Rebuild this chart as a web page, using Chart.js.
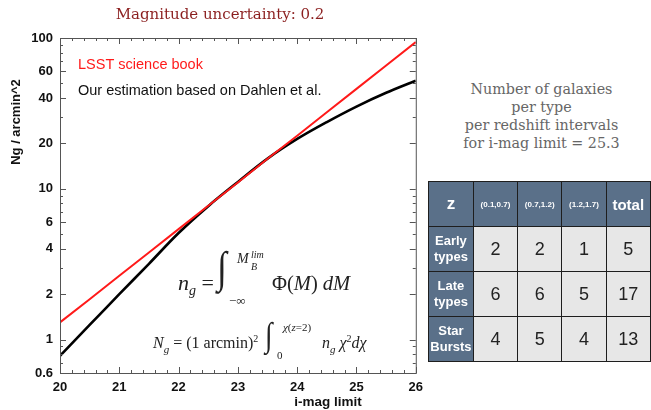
<!DOCTYPE html>
<html>
<head>
<meta charset="utf-8">
<script src="https://cdn.jsdelivr.net/npm/chart.js@4.4.1/dist/chart.umd.min.js"></script>
<style>
  body { margin: 0; width: 651px; height: 410px; overflow: hidden; background: #fff; position: relative; }
  #grafico { position: absolute; left: 0; top: 0; width: 430px; height: 410px; }
  .titulo { position: absolute; left: 0; top: 5px; width: 440px; text-align: center;
            font: 15px "DejaVu Serif", serif; color: #8b1f1f; }
  .eq { position: absolute; font-family: "Liberation Serif", serif; color: #222; white-space: nowrap; line-height: 1; }
  .eq i { font-style: italic; }
  .texto { position: absolute; left: 432px; top: 80px; width: 219px; text-align: center;
           font: 14.3px/18px "DejaVu Serif", serif; color: #666; }
  table { position: absolute; left: 428px; top: 181px; border-collapse: collapse;
          font-family: "Liberation Sans", Arial, sans-serif; table-layout: fixed; }
  td { width: 44px; height: 44px; border: 1.5px solid #1e1e1e; text-align: center; padding: 0;
       background: #e7e7e7; color: #222; font-size: 18px; }
  td.cab { background: #5a7089; color: #fff; font-weight: bold; }
</style>
</head>
<body>
<div id="grafico"><canvas id="chart-ng"></canvas></div>
<div class="titulo">Magnitude uncertainty: 0.2</div>

<div class="eq" style="left:178px; top:272px; font-size:22px;"><i>n</i><sub style="font-size:14px"><i>g</i></sub> =</div>
<div class="eq" style="left:216px; top:246px; font-size:44px; transform: scaleX(0.8);">∫</div>
<div class="eq" style="left:237px; top:252px; font-size:14px;"><i>M</i></div>
<div class="eq" style="left:251px; top:250px; font-size:10px;"><i>lim</i></div>
<div class="eq" style="left:251px; top:262px; font-size:10px;"><i>B</i></div>
<div class="eq" style="left:229px; top:294px; font-size:13px;">−∞</div>
<div class="eq" style="left:272px; top:273px; font-size:20.5px;">Φ(<i>M</i>) <i>dM</i></div>

<div class="eq" style="left:153px; top:334px; font-size:16px;"><i>N</i><sub style="font-size:11px"><i>g</i></sub> = (1 arcmin)<sup style="font-size:10px">2</sup></div>
<div class="eq" style="left:264px; top:318px; font-size:34px; transform: scaleX(0.8);">∫</div>
<div class="eq" style="left:283px; top:322px; font-size:11px;"><i>χ</i>(<i>z</i>=2)</div>
<div class="eq" style="left:277px; top:350px; font-size:11px;">0</div>
<div class="eq" style="left:322px; top:334px; font-size:16px;"><i>n</i><sub style="font-size:11px"><i>g</i></sub> <i>χ</i><sup style="font-size:10px">2</sup><i>dχ</i></div>

<div class="texto">Number of galaxies<br>per type<br>per redshift intervals<br>for i-mag limit = 25.3</div>
<table id="tabla"></table>

<script>
// Datos de la figura
const magnitudes = [20, 20.5, 21, 21.5, 22, 22.5, 23, 23.5, 24, 24.5, 25, 25.5, 26];
const valoresLSST = [1.3, 1.85, 2.65, 3.78, 5.4, 7.72, 11.0, 15.8, 22.5, 32.2, 46, 65.7, 94];
const valoresDahlen = [0.78, 1.25, 2.0, 3.18, 5.09, 7.67, 11.1, 15.85, 21.4, 27.7, 35.1, 43.3, 52.1];

const etiquetasY = [0.6, 1, 2, 4, 6, 10, 20, 40, 60, 100];
const etiquetasX = [20, 21, 22, 23, 24, 25, 26];

// Tabla de la derecha
const intervalosZ = ['(0.1,0.7)', '(0.7,1.2)', '(1.2,1.7)'];
const tiposGalaxia = ['Early<br>types', 'Late<br>types', 'Star<br>Bursts'];
const conteoEarly = [2, 2, 1, 5];
const conteoLate = [6, 6, 5, 17];
const conteoStarBursts = [4, 5, 4, 13];

function construirTabla() {
    const tabla = document.getElementById('tabla');
    let html = '<tr><td class="cab" style="font-size:17px">z</td>';
    intervalosZ.forEach(z => { html += `<td class="cab" style="font-size:8px">${z}</td>`; });
    html += '<td class="cab" style="font-size:15px">total</td></tr>';
    [conteoEarly, conteoLate, conteoStarBursts].forEach((fila, i) => {
        html += `<tr><td class="cab" style="font-size:13px;line-height:16px">${tiposGalaxia[i]}</td>`;
        fila.forEach(v => { html += `<td>${v}</td>`; });
        html += '</tr>';
    });
    tabla.innerHTML = html;
}

// Marco con ticks hacia dentro, leyenda y títulos de ejes
const marcoPlugin = {
    id: 'marco',
    afterDraw(chart) {
        const c = chart.ctx;
        const a = chart.chartArea;
        const x = chart.scales.x;
        const y = chart.scales.y;
        c.save();
        c.strokeStyle = '#555';
        c.lineWidth = 1;
        c.strokeRect(a.left + 0.5, a.top + 0.5, a.right - a.left, a.bottom - a.top);

        // ticks eje x (cada 0.2)
        for (let i = 0; i <= 30; i++) {
            const px = Math.round(x.getPixelForValue(20 + i / 5)) + 0.5;
            const largo = i % 5 === 0 ? 6 : 3;
            c.beginPath();
            c.moveTo(px, a.bottom); c.lineTo(px, a.bottom - largo);
            c.moveTo(px, a.top); c.lineTo(px, a.top + largo);
            c.stroke();
        }
        // ticks eje y (1..9 por década)
        [0.1, 1, 10].forEach(dec => {
            for (let k = 1; k <= 9; k++) {
                const v = +(k * dec).toFixed(2);
                if (v < 0.6 || v > 100) continue;
                const py = Math.round(y.getPixelForValue(v)) + 0.5;
                const largo = etiquetasY.includes(v) ? 6 : 3;
                c.beginPath();
                c.moveTo(a.left, py); c.lineTo(a.left + largo, py);
                c.moveTo(a.right, py); c.lineTo(a.right - largo, py);
                c.stroke();
            }
        });

        // leyenda
        c.font = '14.5px "Liberation Sans", Arial, sans-serif';
        c.textBaseline = 'middle';
        c.fillStyle = '#ff1a1a';
        c.fillText('LSST science book', a.left + 18, 65);
        c.fillStyle = '#111';
        c.fillText('Our estimation based on Dahlen et al.', a.left + 18, 91);

        // títulos de ejes
        c.font = 'bold 13.5px "Liberation Sans", Arial, sans-serif';
        c.textAlign = 'center';
        c.fillText('i-mag limit', 328, 402);
        c.translate(16, 122);
        c.rotate(-Math.PI / 2);
        c.font = 'bold 13px "Liberation Sans", Arial, sans-serif';
        c.fillText('Ng / arcmin^2', 0, 0);
        c.restore();
    }
};

function crearGrafico() {
    const ctx = document.getElementById('chart-ng');
    const fuenteTicks = { family: '"Liberation Sans", Arial, sans-serif', size: 13, weight: 'bold' };

    new Chart(ctx, {
        type: 'line',
        data: {
            datasets: [{
                label: 'LSST science book',
                data: magnitudes.map((m, i) => ({ x: m, y: valoresLSST[i] })),
                borderColor: '#ff1a1a',
                borderWidth: 2,
                pointRadius: 0,
                tension: 0
            }, {
                label: 'Our estimation based on Dahlen et al.',
                data: magnitudes.map((m, i) => ({ x: m, y: valoresDahlen[i] })),
                borderColor: '#000',
                borderWidth: 2.6,
                pointRadius: 0,
                tension: 0.35
            }]
        },
        options: {
            responsive: true,
            maintainAspectRatio: false,
            animation: false,
            layout: { padding: { top: 38, left: 0, right: 13, bottom: 0 } },
            plugins: { legend: { display: false }, tooltip: { enabled: false } },
            scales: {
                x: {
                    type: 'linear',
                    min: 20,
                    max: 26,
                    afterBuildTicks: s => { s.ticks = etiquetasX.map(v => ({ value: v })); },
                    afterFit: s => { s.height = 37; },
                    ticks: { font: fuenteTicks, color: '#111', padding: 7, maxRotation: 0 },
                    grid: { display: false, drawTicks: false },
                    border: { display: false }
                },
                y: {
                    type: 'logarithmic',
                    min: 0.6,
                    max: 100,
                    afterBuildTicks: s => { s.ticks = etiquetasY.map(v => ({ value: v })); },
                    afterFit: s => { s.width = 60; },
                    ticks: { font: fuenteTicks, color: '#111', padding: 7, callback: v => String(v) },
                    grid: { display: false, drawTicks: false },
                    border: { display: false }
                }
            }
        },
        plugins: [marcoPlugin]
    });
}

document.addEventListener('DOMContentLoaded', function() {
    construirTabla();
    crearGrafico();
});
</script>
</body>
</html>
